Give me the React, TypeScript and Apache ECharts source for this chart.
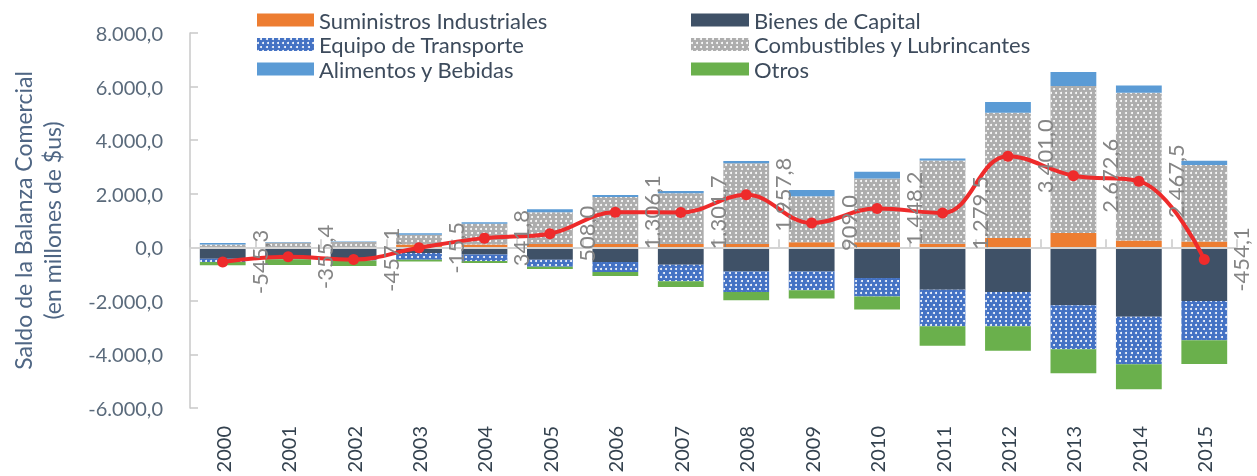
import React, { useEffect, useRef } from "react";
import * as echarts from "echarts";

const years = ["2000", "2001", "2002", "2003", "2004", "2005", "2006", "2007", "2008", "2009", "2010", "2011", "2012", "2013", "2014", "2015"];

const suministros = [0, 0, 0, 100, 105, 120, 120, 120, 120, 190, 190, 130, 350, 530, 250, 215];
const combustibles = [100, 180, 200, 372, 770, 1190, 1760, 1897, 3013, 1711, 2381, 3114, 4676, 5491, 5520, 2853];
const alimentos = [63, 15, 15, 52, 63, 112, 74, 86, 86, 234, 246, 74, 394, 521, 272, 160];
const bienes = [-427, -420, -400, -216, -268, -465, -550, -651, -900, -900, -1146, -1581, -1667, -2165, -2597, -2001];
const equipo = [-124, -30, -90, -249, -246, -260, -372, -621, -766, -707, -690, -1365, -1280, -1637, -1774, -1466];
const otros = [-124, -210, -208, -63, -74, -89, -149, -208, -312, -309, -484, -729, -915, -904, -930, -893];
const saldo = [-545.3, -355.4, -457.1, -15.5, 341.8, 508.0, 1306.1, 1301.7, 1957.8, 909.0, 1448.2, 1279.5, 3401.0, 2672.6, 2467.5, -454.1];

const FONT = "Lato, 'Open Sans', sans-serif";

function fmt(v: number): string {
  const s = Math.abs(v).toFixed(1);
  const [i, d] = s.split(".");
  const ii = i.replace(/\B(?=(\d{3})+(?!\d))/g, ".");
  return (v < 0 ? "-" : "") + ii + "," + d;
}

const dotDecal = {
  symbol: "circle",
  symbolSize: 1,
  color: "#ffffff",
  dashArrayX: [[2, 3], [0, 2.5, 2, 0.5]],
  dashArrayY: [2, 1.5],
};

export default function App() {
  const ref = useRef<HTMLDivElement>(null);
  useEffect(() => {
    if (!ref.current) return;
    const chart = echarts.init(ref.current, null, { renderer: "svg" });
    const legendText = { fontSize: 22, color: "#3d4b5c", fontFamily: FONT, lineHeight: 20 };
    chart.setOption({
      animation: false,
      textStyle: { fontFamily: FONT },
      legend: [
        {
          data: ["Suministros Industriales", "Equipo de Transporte", "Alimentos y Bebidas"],
          orient: "vertical",
          left: 252,
          top: 4,
          itemWidth: 57,
          itemHeight: 13,
          itemGap: 2.5,
          icon: "rect",
          textStyle: legendText,
        },
        {
          data: ["Bienes de Capital", "Combustibles y Lubrincantes", "Otros"],
          orient: "vertical",
          left: 686,
          top: 4,
          itemWidth: 58,
          itemHeight: 13,
          itemGap: 2.5,
          icon: "rect",
          textStyle: legendText,
        },
      ],
      grid: [
        { left: 190, right: 20, top: 33, bottom: 68, containLabel: false },
        { left: 190, right: 20, top: 33, bottom: 68, containLabel: false },
      ],
      xAxis: [
        {
          type: "category",
          gridIndex: 0,
          data: years,
          axisLine: { show: false },
          axisTick: { show: false },
          axisLabel: { rotate: 90, fontSize: 20, color: "#34424f", margin: 18, fontFamily: FONT },
        },
        {
          type: "category",
          gridIndex: 1,
          data: years,
          position: "bottom",
          z: 5,
          axisLine: { show: true, onZero: true, lineStyle: { color: "#D4D4D4", width: 2 } },
          axisTick: { show: true, inside: true, length: 8, lineStyle: { color: "#C8C8C8", width: 1.5 } },
          axisLabel: { show: false },
        },
      ],
      yAxis: [
        {
          type: "value",
          gridIndex: 0,
          min: -6000,
          max: 8000,
          interval: 2000,
          splitLine: { show: false },
          axisLine: { show: true, lineStyle: { color: "#C8C8C8", width: 1.5 } },
          axisTick: { show: true, inside: true, length: 8, lineStyle: { color: "#C8C8C8", width: 1.5 } },
          axisLabel: { fontSize: 20, color: "#5a6a7b", margin: 27, formatter: (v: number) => fmt(v), fontFamily: FONT },
          name: "Saldo de la Balanza Comercial\n(en millones de $us)",
          nameLocation: "middle",
          nameRotate: 90,
          nameGap: 124,
          nameTextStyle: { fontSize: 23, color: "#4f6684", lineHeight: 29, fontFamily: FONT },
        },
        {
          type: "value",
          gridIndex: 1,
          min: -6000,
          max: 8000,
          interval: 2000,
          show: false,
        },
      ],
      series: [
        {
          name: "Suministros Industriales",
          type: "bar",
          stack: "total",
          barCategoryGap: "30%",
          data: suministros,
          itemStyle: { color: "#ED7D31" },
        },
        {
          name: "Bienes de Capital",
          type: "bar",
          stack: "total",
          barCategoryGap: "30%",
          data: bienes,
          itemStyle: { color: "#3F5167" },
        },
        {
          name: "Equipo de Transporte",
          type: "bar",
          stack: "total",
          barCategoryGap: "30%",
          data: equipo,
          itemStyle: { color: "#4472C4", decal: dotDecal },
        },
        {
          name: "Combustibles y Lubrincantes",
          type: "bar",
          stack: "total",
          barCategoryGap: "30%",
          data: combustibles,
          itemStyle: { color: "#ADADAD", decal: dotDecal },
        },
        {
          name: "Alimentos y Bebidas",
          type: "bar",
          stack: "total",
          barCategoryGap: "30%",
          data: alimentos,
          itemStyle: { color: "#5B9BD5" },
        },
        {
          name: "Otros",
          type: "bar",
          stack: "total",
          barCategoryGap: "30%",
          data: otros,
          itemStyle: { color: "#6AB04C" },
        },
        {
          name: "Saldo",
          type: "line",
          z: 10,
          data: saldo,
          smooth: 0.4,
          symbol: "circle",
          symbolSize: 11,
          lineStyle: { color: "#EE2B2B", width: 4 },
          itemStyle: { color: "#EE2B2B" },
          label: {
            show: true,
            position: "right",
            distance: 31,
            rotate: 90,
            align: "center",
            verticalAlign: "middle",
            fontSize: 22,
            color: "#858585",
            fontFamily: FONT,
            formatter: (p: any) => fmt(p.value as number),
          },
        },
      ],
    });
    return () => chart.dispose();
  }, []);
  return <div ref={ref} style={{ position: "fixed", left: 0, top: 0, width: 1257, height: 476 }} />;
}
